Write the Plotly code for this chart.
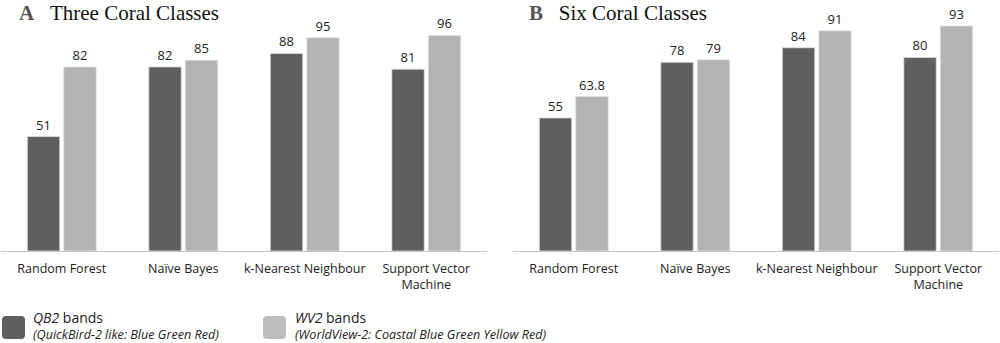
import plotly.graph_objects as go
from plotly.subplots import make_subplots

categories = ["Random Forest", "Naïve Bayes", "k-Nearest Neighbour", "Support Vector<br>Machine"]
qb2_three = [51, 82, 88, 81]
wv2_three = [82, 85, 95, 96]
qb2_six = [55, 78, 84, 80]
wv2_six = [63.8, 79, 91, 93]
qb2_labels_three = ["51", "82", "88", "81"]
wv2_labels_three = ["82", "85", "95", "96"]
qb2_labels_six = ["55", "78", "84", "80"]
wv2_labels_six = ["63.8", "79", "91", "93"]
legend_names = ["<i>QB2</i> bands", "<i>WV2</i> bands"]
legend_notes = ["(QuickBird-2 like: Blue Green Red)", "(WorldView-2: Coastal Blue Green Yellow Red)"]

DARK = "#5f5f5f"
LIGHT = "#b3b3b3"
LEG_LIGHT = "#bdbdbd"
FONT = "Open Sans, Lato, sans-serif"

W, H = 1000, 343
T, B = 20, 92
PH = H - T - B
BASE = H - B  # pixel y of plot bottom

fig = make_subplots(rows=1, cols=2)

def add(col, ys, labels, color):
    fig.add_trace(go.Bar(x=categories, y=ys, text=labels, textposition="outside",
                         marker=dict(color=color, line=dict(color="#e2e2e2", width=0.8)),
                         textfont=dict(size=13, color="#222222", family=FONT),
                         cliponaxis=False, showlegend=False), row=1, col=col)

add(1, qb2_three, qb2_labels_three, DARK)
add(1, wv2_three, wv2_labels_three, LIGHT)
add(2, qb2_six, qb2_labels_six, DARK)
add(2, wv2_six, wv2_labels_six, LIGHT)

axis_common = dict(showline=True, linecolor="#c4c4c4", linewidth=1, ticks="",
                   tickfont=dict(size=12.5, color="#222222", family=FONT), ticklabelstandoff=6)
fig.update_xaxes(**axis_common)
fig.update_xaxes(domain=[1 / W, 487 / W], row=1, col=1)
fig.update_xaxes(domain=[513 / W, 999 / W], row=1, col=2)
fig.update_yaxes(visible=False, showgrid=False)
fig.update_yaxes(range=[0, 102.9], row=1, col=1)
fig.update_yaxes(range=[0, 95.45], row=1, col=2)

SERIF = "Liberation Serif, Times New Roman, serif"
annotations = [
    dict(x=17 / W, y=1, xref="paper", yref="paper", yanchor="middle", xanchor="left",
         yshift=T - 13,
         text="<b><span style='color:#555555'>A</span></b>&nbsp;&nbsp;&nbsp;Three Coral Classes",
         font=dict(family=SERIF, size=21, color="#111111"), showarrow=False),
    dict(x=527 / W, y=1, xref="paper", yref="paper", yanchor="middle", xanchor="left",
         yshift=T - 13,
         text="<b><span style='color:#555555'>B</span></b>&nbsp;&nbsp;&nbsp;Six Coral Classes",
         font=dict(family=SERIF, size=21, color="#111111"), showarrow=False),
]
for xt, name, note in zip([31, 293], legend_names, legend_notes):
    annotations.append(dict(
        x=xt / W, y=0, xref="paper", yref="paper", xanchor="left", yanchor="middle",
        align="left", showarrow=False, yshift=BASE - 325.5,
        text=f"<span style='font-size:14px'>{name}</span><br><span style='font-size:12.6px'><i>{note}</i></span>",
        font=dict(family=FONT, size=12, color="#222222")))

def px_x(x):
    return x / W

def px_y(y):
    return (BASE - y) / PH

def rounded_rect(x0, y0, x1, y1, r=4):
    pts = (f"M {px_x(x0 + r)},{px_y(y0)} L {px_x(x1 - r)},{px_y(y0)} "
           f"Q {px_x(x1)},{px_y(y0)} {px_x(x1)},{px_y(y0 + r)} "
           f"L {px_x(x1)},{px_y(y1 - r)} Q {px_x(x1)},{px_y(y1)} {px_x(x1 - r)},{px_y(y1)} "
           f"L {px_x(x0 + r)},{px_y(y1)} Q {px_x(x0)},{px_y(y1)} {px_x(x0)},{px_y(y1 - r)} "
           f"L {px_x(x0)},{px_y(y0 + r)} Q {px_x(x0)},{px_y(y0)} {px_x(x0 + r)},{px_y(y0)} Z")
    return pts

shapes = []
for x0, color in [(2, DARK), (263, LEG_LIGHT)]:
    shapes.append(dict(type="path", xref="paper", yref="paper",
                       path=rounded_rect(x0, 316, x0 + 23, 339),
                       fillcolor=color, line=dict(width=0)))

fig.update_layout(width=W, height=H, margin=dict(l=0, r=0, t=T, b=B, autoexpand=False),
                  barmode="group", bargap=0.40, bargroupgap=0.11,
                  plot_bgcolor="white", paper_bgcolor="white",
                  annotations=annotations, shapes=shapes)
fig.write_html("out.html", config={"displayModeBar": False},
               post_script="document.body.style.margin='0';document.body.style.overflow='hidden';")
